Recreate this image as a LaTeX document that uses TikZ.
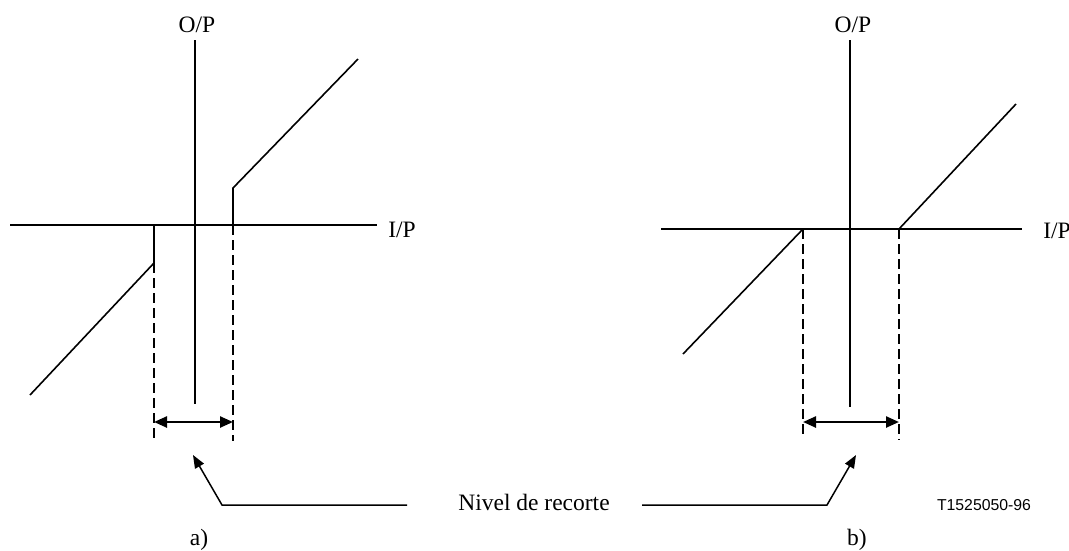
\documentclass[tikz,border=0pt]{standalone}
\usepackage{fontspec}
\setmainfont{Liberation Serif}
\newfontfamily\arialfont{Liberation Sans}
\usetikzlibrary{arrows.meta}
\begin{document}
\begin{tikzpicture}[x=1pt,y=-1pt,
  axis/.style={line width=2.4pt},
  curve/.style={line width=1.6pt},
  guide/.style={line width=2.2pt,dash pattern=on 10pt off 5pt},
  dimarrow/.style={line width=2.4pt,{Triangle[length=13pt,width=11pt]}-{Triangle[length=13pt,width=11pt]}},
  leader/.style={line width=1.5pt,-{Triangle[length=13pt,width=10pt]}},
  lbl/.style={inner sep=0pt,anchor=base,font=\fontsize{23.5}{26}\selectfont},
  code/.style={inner sep=0pt,anchor=base,font=\arialfont\fontsize{15.8}{18}\selectfont}]
\useasboundingbox (0,0) rectangle (1069,550);

% ---------- a) ----------
\coordinate (aYt) at (195,40);
\coordinate (aYb) at (195,404);
\coordinate (aXl) at (10,225);
\coordinate (aXr) at (377,225);
\coordinate (aP1) at (233,225);
\coordinate (aP2) at (233,188);
\coordinate (aP3) at (358,59);
\coordinate (aN1) at (154,225);
\coordinate (aN2) at (154,263);
\coordinate (aN3) at (30,395);
\coordinate (aD1) at (154,442);
\coordinate (aD2) at (233,441);
\coordinate (aA1) at (154,422);
\coordinate (aA2) at (233,422);
\coordinate (aL0) at (407,505);
\coordinate (aL1) at (222,505);
\coordinate (aLt) at (193,455);

\draw[axis] (aYt) -- (aYb);
\draw[axis] (aXl) -- (aXr);
\draw[curve] (aP1) -- (aP2) -- (aP3);
\draw[curve] (aN1) -- (aN2) -- (aN3);
\draw[guide] (aN2) -- (aD1);
\draw[guide] (aP1) -- (aD2);
\draw[dimarrow] (aA1) -- (aA2);
\draw[leader] (aL0) -- (aL1) -- (aLt);

\node[lbl] (aOP) at (197,32) {O/P};
\node[lbl] (aIP) at (402,237) {I/P};
\node[lbl] (aLab) at (199,545) {a)};

% ---------- b) ----------
\coordinate (bYt) at (850,40);
\coordinate (bYb) at (850,407);
\coordinate (bXl) at (661,229);
\coordinate (bXr) at (1022,229);
\coordinate (bN1) at (803,229);
\coordinate (bN3) at (683,354);
\coordinate (bP1) at (899,229);
\coordinate (bP3) at (1016,104);
\coordinate (bD1) at (803,438);
\coordinate (bD2) at (899,440);
\coordinate (bA1) at (803,422);
\coordinate (bA2) at (899,422);
\coordinate (bL0) at (642,505);
\coordinate (bL1) at (827,505);
\coordinate (bLt) at (856,455);

\draw[axis] (bYt) -- (bYb);
\draw[axis] (bXl) -- (bXr);
\draw[curve] (bN3) -- (bN1);
\draw[curve] (bP1) -- (bP3);
\draw[guide] (bN1) -- (bD1);
\draw[guide] (bP1) -- (bD2);
\draw[dimarrow] (bA1) -- (bA2);
\draw[leader] (bL0) -- (bL1) -- (bLt);

\node[lbl] (bOP) at (853,32) {O/P};
\node[lbl] (bIP) at (1057,238) {I/P};
\node[lbl] (bLab) at (857,545) {b)};

% ---------- shared ----------
\node[lbl] (nivel) at (534,510) {Nivel de recorte};
\node[code] (tcode) at (984,510) {T1525050-96};
\end{tikzpicture}
\end{document}
